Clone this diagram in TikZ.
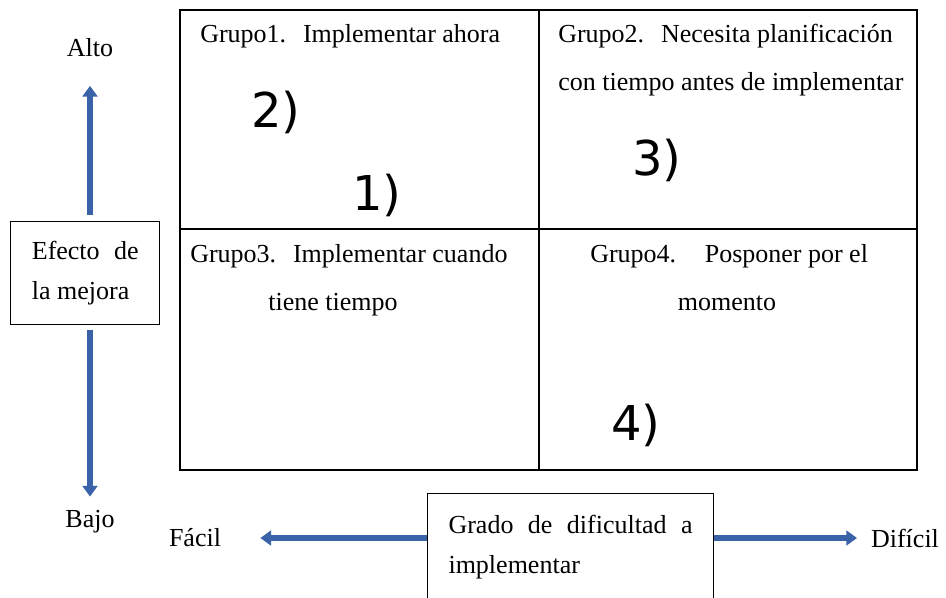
\documentclass[tikz,border=0pt]{standalone}
\usepackage{fontspec}
\setmainfont{Liberation Serif}
\newfontfamily\numfont{DejaVu Sans}
\usepackage{xcolor}
\usetikzlibrary{arrows.meta, positioning}

\definecolor{arrowblue}{HTML}{3A62A8}

\begin{document}
\begin{tikzpicture}[x=0.75pt, y=-0.75pt,
        every node/.style={font=\fontsize{19.5}{30}\selectfont},
        lbl/.style={inner xsep=0pt},
        txtbox/.style={draw, line width=0.8pt, align=justify, anchor=north west},
        num/.style={font=\numfont\fontsize{36}{40}\selectfont},
        bluearrow/.style={draw=arrowblue, line width=4.5pt, -{Triangle[width=11pt, length=8pt]}}]
            \useasboundingbox (0,0) rectangle (946,597);

            % cuadrantes
            \draw[line width=2pt] (180,10) rectangle (917,470);
            \draw[line width=2pt] (539,10) -- (539,470);
            \draw[line width=2pt] (180,229) -- (917,229);

            \node[lbl, anchor=base west] (g1) at (200,42) {Grupo1.\hspace{0.65em}Implementar ahora};
            \node[lbl, anchor=base west] (g2a) at (558,42) {Grupo2.\hspace{0.65em}Necesita planificación};
            \node[lbl, anchor=base west] (g2b) at (558,90) {con tiempo antes de implementar};
            \node[lbl, anchor=base west] (g3a) at (190,262) {Grupo3.\hspace{0.65em}Implementar cuando};
            \node[lbl, anchor=base] (g3b) at (333,310) {tiene tiempo};
            \node[lbl, anchor=base west] (g4a) at (590,262) {Grupo4.\hspace{1.1em}Posponer por el};
            \node[lbl, anchor=base] (g4b) at (727,310) {momento};

            \node[num] (n2) at (276,112) {2)};
            \node[num] (n1) at (377,195) {1)};
            \node[num] (n3) at (657,160) {3)};
            \node[num] (n4) at (636,425) {4)};

            % ejes
            \node[txtbox, text width=80pt, inner xsep=16pt, inner ysep=14.5pt] (efecto) at (10,221) {Efecto de la mejora};
            \node (alto) at (90,48) {Alto};
            \node (bajo) at (90,522) {Bajo};

            \node[txtbox, text width=183pt, inner xsep=15.75pt, inner ysep=16.5pt, text depth=40pt] (grado) at (427,493) {Grado de dificultad a implementar};
            \node (facil) at (195,538) {Fácil};
            \node (dificil) at (905,538) {Difícil};

            \draw[bluearrow, shorten <=4.5pt, shorten >=18pt] (alto |- efecto.north) -- (alto);
            \draw[bluearrow, shorten <=3.75pt, shorten >=7pt] (bajo |- efecto.south) -- (bajo);
            \draw[bluearrow, shorten >=26pt] (grado.west |- facil) -- (facil);
            \draw[bluearrow, shorten >=7pt] (grado.east |- dificil) -- (dificil);
        \end{tikzpicture}
\end{document}
